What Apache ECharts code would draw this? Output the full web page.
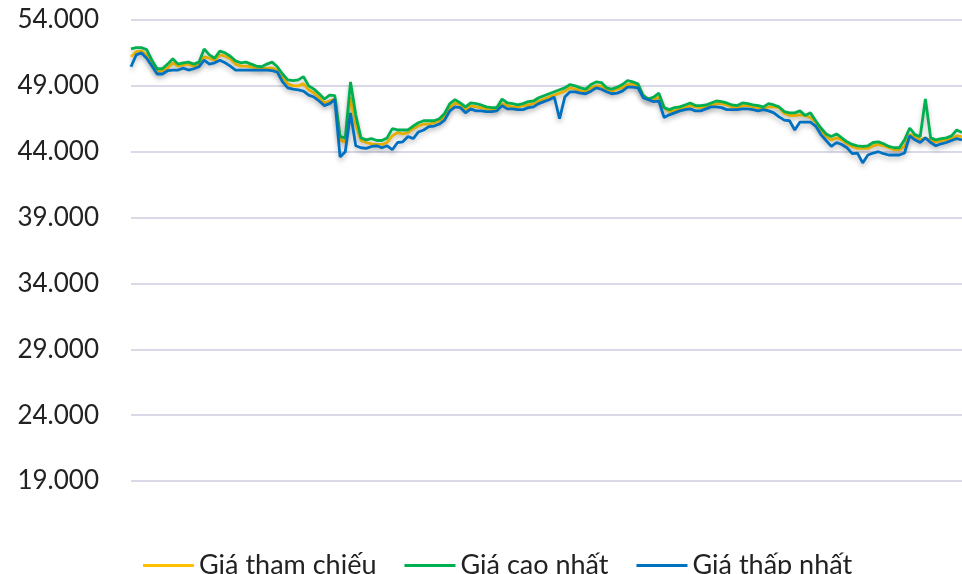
<!DOCTYPE html>
<html>
<head>
<meta charset="utf-8">
<script src="https://cdn.jsdelivr.net/npm/echarts@6/dist/echarts.min.js"></script>
<style>
  html, body { margin: 0; padding: 0; background: #fff; }
  #chart { width: 962px; height: 574px; }
</style>
</head>
<body>
<div id="chart"></div>
<script>
// giá tham chiếu / cao nhất / thấp nhất theo phiên
var refPrice = [51200,51600,51650,51350,50650,50050,50150,50350,50750,50500,50600,50650,50500,50600,51200,51100,50950,51350,51250,51050,
  50650,50500,50500,50450,50350,50300,50350,50350,50200,49600,49150,49000,49000,49150,48700,48450,48100,47700,47850,48000,
  44900,44750,48150,46050,44850,44700,44600,44550,44550,44700,45200,45450,45350,45450,45750,45950,46100,46100,46200,46350,
  46650,47350,47700,47550,47200,47500,47400,47350,47250,47200,47200,47650,47500,47400,47400,47500,47550,47650,47850,48000,
  48150,48300,48450,48600,48850,48750,48600,48600,48850,49000,49000,48700,48600,48750,48850,49100,49150,49000,48300,47950,
  47950,48150,47350,47050,47100,47250,47350,47500,47400,47350,47400,47500,47650,47650,47550,47400,47350,47500,47500,47400,
  47350,47250,47400,47400,47350,46900,46750,46750,46800,46750,46600,46250,45650,45150,44900,45050,44900,44600,44400,44250,
  44250,44250,44450,44550,44450,44300,44150,44150,44400,45300,45150,44900,45050,44850,44750,44850,44900,45000,45200,45150];

var highPrice = [51800,51900,51900,51750,50950,50300,50300,50650,51050,50650,50750,50800,50650,50800,51800,51350,51100,51650,51500,51250,
  50900,50750,50800,50650,50500,50450,50650,50800,50450,49900,49450,49400,49450,49700,49000,48750,48400,48000,48300,48250,
  45150,45050,49300,46800,45050,44900,45000,44850,44850,45050,45750,45650,45650,45650,45950,46200,46350,46350,46350,46500,
  46900,47650,47950,47700,47400,47700,47650,47550,47400,47350,47350,48000,47700,47650,47550,47650,47800,47850,48100,48250,
  48400,48550,48700,48850,49100,49000,48850,48750,49100,49300,49250,48850,48750,48900,49100,49400,49300,49150,48250,48000,
  48150,48450,47350,47200,47350,47400,47550,47700,47500,47500,47550,47700,47850,47800,47700,47550,47500,47700,47650,47550,
  47500,47400,47650,47550,47400,47050,46950,46950,47100,46750,46950,46350,45800,45350,45150,45350,45050,44750,44550,44450,
  44400,44450,44700,44750,44600,44400,44300,44300,44900,45800,45300,45150,48000,45050,44900,45000,45050,45200,45650,45450];

var lowPrice = [50450,51350,51500,51100,50500,49900,49900,50150,50200,50200,50350,50200,50300,50450,50950,50650,50750,50950,50750,50500,
  50200,50200,50200,50200,50200,50200,50200,50150,50050,49300,48850,48750,48700,48600,48300,48150,47850,47500,47650,47950,
  43600,44000,46950,44450,44300,44250,44400,44450,44300,44450,44150,44700,44750,45150,45000,45500,45650,45900,45950,46100,
  46400,47100,47400,47350,46950,47250,47100,47100,47050,47050,47100,47500,47250,47250,47200,47200,47350,47400,47650,47800,
  47950,48150,46500,48150,48550,48550,48450,48400,48600,48850,48750,48550,48400,48450,48600,48900,48900,48850,48100,47950,
  47800,47850,46600,46800,46950,47100,47200,47250,47100,47100,47250,47400,47400,47350,47200,47200,47200,47250,47250,47200,
  47100,47200,47100,46950,46650,46400,46350,45650,46250,46250,46250,45950,45300,44850,44400,44700,44550,44300,43850,43900,
  43150,43750,43900,44000,43850,43750,43750,43750,43900,45200,44900,44700,45050,44700,44450,44600,44700,44850,45000,44900];

var sessions = refPrice.map(function (v, i) { return 'Phiên ' + (i + 1); });

var chart = echarts.init(document.getElementById('chart'));

var shadow = {
  shadowColor: 'rgba(0,0,0,0.25)',
  shadowBlur: 5,
  shadowOffsetY: 3
};

function makeSeries(name, data, color) {
  return {
    name: name,
    type: 'line',
    data: data,
    symbol: 'none',
    color: color,
    lineStyle: Object.assign({ width: 2.8, color: color }, shadow)
  };
}

chart.setOption({
  animation: false,
  grid: { left: 131, right: 0, top: 20, bottom: 93 },
  legend: {
    left: 138,
    top: 547,
    icon: 'rect',
    itemWidth: 51,
    itemHeight: 3,
    itemGap: 28,
    textStyle: { fontFamily: 'Lato', fontSize: 27, color: '#222' },
    data: ['Giá tham chiếu', 'Giá cao nhất', 'Giá thấp nhất']
  },
  xAxis: {
    type: 'category',
    data: sessions,
    boundaryGap: false,
    axisLine: { show: false },
    axisTick: { show: false },
    axisLabel: { show: false }
  },
  yAxis: {
    type: 'value',
    min: 19000,
    max: 54000,
    interval: 5000,
    axisLine: { show: false },
    axisTick: { show: false },
    axisLabel: {
      margin: 32,
      fontFamily: 'Lato',
      fontSize: 26,
      color: '#222',
      formatter: function (v) { return String(v).replace(/\B(?=(\d{3})+(?!\d))/g, '.'); }
    },
    splitLine: { lineStyle: { color: '#d9d9e8', width: 2 } }
  },
  series: [
    makeSeries('Giá tham chiếu', refPrice, '#FFC000'),
    makeSeries('Giá cao nhất', highPrice, '#00B050'),
    makeSeries('Giá thấp nhất', lowPrice, '#0070C0')
  ]
});
</script>
</body>
</html>
